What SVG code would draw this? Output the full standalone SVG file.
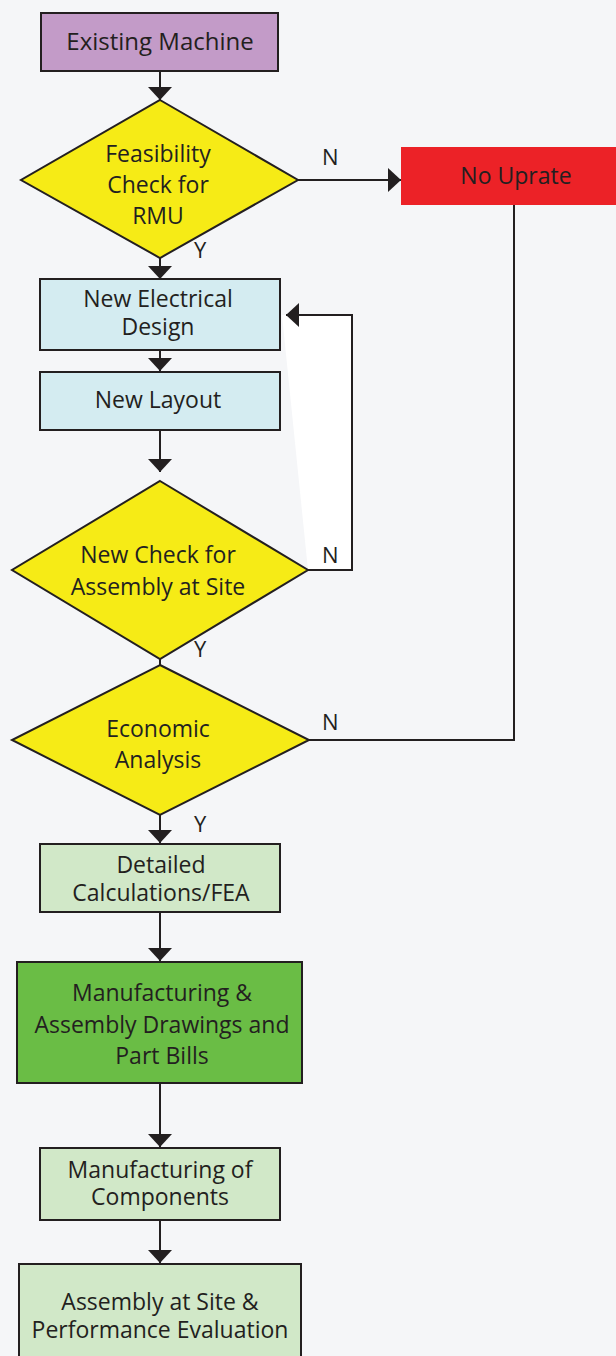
<svg xmlns="http://www.w3.org/2000/svg" width="616" height="1356" viewBox="0 0 616 1356">
<defs>
<marker id="ah" markerUnits="userSpaceOnUse" markerWidth="13" markerHeight="24" viewBox="0 0 13 24" refX="13" refY="12" orient="auto">
<path d="M0,0 L13,12 L0,24 Z" fill="#231f20"/>
</marker>
<style>
.n{stroke:#231f20;stroke-width:2}
.t{font-family:"Open Sans","Liberation Sans",sans-serif;font-size:23px;fill:#231f20;text-anchor:middle}
.l{font-family:"Open Sans","Liberation Sans",sans-serif;font-size:22px;fill:#231f20}
.c{fill:none;stroke:#231f20;stroke-width:2}
.blue{fill:#d4ecf1}
.lg{fill:#d1e8c8}
.dia{fill:#f6eb16}
</style>
</defs>
<rect x="0" y="0" width="616" height="1356" fill="#f5f6f8"/>
<polygon points="282,315 352,315 352,570 308,570" fill="#ffffff"/>
<g id="connectors">
<path class="c" d="M160,72 V100" marker-end="url(#ah)"/>
<path class="c" d="M298,180 H401" marker-end="url(#ah)"/>
<path class="c" d="M160,258 V279" marker-end="url(#ah)"/>
<path class="c" d="M160,350 V371" marker-end="url(#ah)"/>
<path class="c" d="M160,430 V472" marker-end="url(#ah)"/>
<path class="c" d="M308,570 H352 V315 H286" marker-end="url(#ah)"/>
<path class="c" d="M160,659 V665"/>
<path class="c" d="M514,205 V740 H309"/>
<path class="c" d="M160,815 V843" marker-end="url(#ah)"/>
<path class="c" d="M160,912 V961" marker-end="url(#ah)"/>
<path class="c" d="M160,1083 V1147" marker-end="url(#ah)"/>
<path class="c" d="M160,1220 V1263" marker-end="url(#ah)"/>
<text class="l" x="322" y="165">N</text>
<text class="l" x="194" y="258">Y</text>
<text class="l" x="322" y="563">N</text>
<text class="l" x="194" y="657">Y</text>
<text class="l" x="322" y="730">N</text>
<text class="l" x="194" y="832">Y</text>
</g>
<g id="existing-machine">
<rect class="n" x="41" y="13" width="237" height="58" fill="#c39bc8"/>
<text class="t" x="160" y="50" style="font-size:24px">Existing Machine</text>
</g>
<g id="feasibility">
<polygon class="n dia" points="160,100 298,180 160,258 21,180"/>
<text class="t" x="158" y="162">Feasibility</text>
<text class="t" x="158" y="193">Check for</text>
<text class="t" x="158" y="224">RMU</text>
</g>
<g id="no-uprate">
<rect x="401" y="147" width="220" height="58" fill="#ec2227"/>
<text class="t" x="516" y="184">No Uprate</text>
</g>
<g id="new-electrical-design">
<rect class="n blue" x="40" y="279" width="240" height="71"/>
<text class="t" x="158" y="307">New Electrical</text>
<text class="t" x="158" y="335">Design</text>
</g>
<g id="new-layout">
<rect class="n blue" x="40" y="372" width="240" height="58"/>
<text class="t" x="158" y="408">New Layout</text>
</g>
<g id="new-check">
<polygon class="n dia" points="160,481 308,570 160,659 12,570"/>
<text class="t" x="158" y="563">New Check for</text>
<text class="t" x="158" y="595">Assembly at Site</text>
</g>
<g id="economic-analysis">
<polygon class="n dia" points="160,665 309,740 160,815 12,740"/>
<text class="t" x="158" y="737">Economic</text>
<text class="t" x="158" y="768">Analysis</text>
</g>
<g id="detailed-calculations">
<rect class="n lg" x="40" y="844" width="240" height="68"/>
<text class="t" x="161" y="873">Detailed</text>
<text class="t" x="161" y="901">Calculations/FEA</text>
</g>
<g id="manufacturing-drawings">
<rect class="n" x="17" y="962" width="285" height="121" fill="#6abd45"/>
<text class="t" x="162" y="1001">Manufacturing &amp;</text>
<text class="t" x="162" y="1033">Assembly Drawings and</text>
<text class="t" x="162" y="1064">Part Bills</text>
</g>
<g id="manufacturing-components">
<rect class="n lg" x="40" y="1148" width="240" height="72"/>
<text class="t" x="160" y="1178">Manufacturing of</text>
<text class="t" x="160" y="1205">Components</text>
</g>
<g id="assembly-site">
<rect class="n lg" x="19" y="1264" width="282" height="100"/>
<text class="t" x="160" y="1310">Assembly at Site &amp;</text>
<text class="t" x="160" y="1338">Performance Evaluation</text>
</g>
</svg>
